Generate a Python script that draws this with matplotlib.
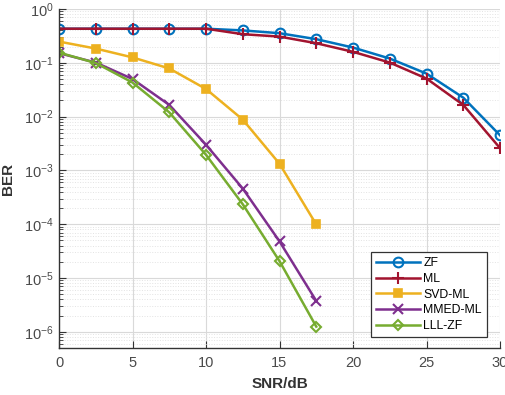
import matplotlib
matplotlib.use("Agg")
import matplotlib.pyplot as plt
from matplotlib.ticker import LogLocator, FixedLocator, NullFormatter

plt.rcParams['font.family'] = ['Liberation Sans', 'DejaVu Sans']
plt.rcParams['mathtext.fontset'] = 'custom'
plt.rcParams['mathtext.rm'] = 'Liberation Sans'
plt.rcParams['mathtext.it'] = 'Liberation Sans:italic'
plt.rcParams['mathtext.bf'] = 'Liberation Sans:bold'

snr = [0, 2.5, 5, 7.5, 10, 12.5, 15, 17.5, 20, 22.5, 25, 27.5, 30]
snr_short = [0, 2.5, 5, 7.5, 10, 12.5, 15, 17.5]

ber_zf = [0.43, 0.43, 0.43, 0.43, 0.43, 0.40, 0.355, 0.275, 0.192, 0.12, 0.063, 0.0225, 0.0045]
ber_ml = [0.43, 0.43, 0.43, 0.43, 0.43, 0.34, 0.307, 0.231, 0.16, 0.101, 0.051, 0.0165, 0.0026]
ber_svd = [0.248, 0.184, 0.126, 0.0785, 0.0326, 0.0088, 0.00133, 9.9e-5]
ber_mmed = [0.151, 0.101, 0.050, 0.0165, 0.0030, 4.6e-4, 4.8e-5, 3.75e-6]
ber_lll = [0.155, 0.099, 0.043, 0.012, 0.00195, 2.35e-4, 2.06e-5, 1.25e-6]

labels = ['ZF', 'ML', 'SVD-ML', 'MMED-ML', 'LLL-ZF']
colors = ['#0072BD', '#A2142F', '#EDB120', '#7E2F8E', '#77AC30']
x_ticks = [0, 5, 10, 15, 20, 25, 30]

fig = plt.figure(figsize=(5.05, 3.95), dpi=100)
ax = fig.add_axes([59 / 505, 47 / 395, 441 / 505, 339 / 395])

lw = 1.8
ax.semilogy(snr, ber_zf, '-o', color=colors[0], lw=lw, ms=7, mfc='none', mew=1.5, label=labels[0])
ax.semilogy(snr, ber_ml, '-+', color=colors[1], lw=lw, ms=8, mew=1.5, label=labels[1])
ax.semilogy(snr_short, ber_svd, '-s', color=colors[2], lw=lw, ms=5.5, mew=1.2, label=labels[2])
ax.semilogy(snr_short, ber_mmed, '-x', color=colors[3], lw=lw, ms=6.5, mew=1.5, label=labels[3])
ax.semilogy(snr_short, ber_lll, '-D', color=colors[4], lw=lw, ms=5.5, mfc='none', mew=1.5, label=labels[4])

ax.set_xlim(0, 30)
ax.set_ylim(5e-7, 1)
ax.xaxis.set_major_locator(FixedLocator(x_ticks))
ax.yaxis.set_major_locator(LogLocator(base=10, numticks=10))
ax.yaxis.set_minor_locator(LogLocator(base=10, subs=range(2, 10), numticks=20))
ax.yaxis.set_minor_formatter(NullFormatter())

ax.grid(True, which='major', color='#d9d9d9', lw=0.8)
ax.grid(True, which='minor', axis='y', color='#e3e3e3', lw=0.7, ls=':')
ax.set_axisbelow(True)

for s in ['top', 'right']:
    ax.spines[s].set_visible(False)
for s in ['left', 'bottom']:
    ax.spines[s].set_color('#333333')
    ax.spines[s].set_linewidth(1.0)

ax.tick_params(which='both', direction='in', colors='#333333', labelsize=10.5, labelcolor='#4a4a4a')
ax.tick_params(which='major', length=5)
ax.tick_params(which='minor', length=3)
ax.tick_params(axis='x', pad=6)
ax.tick_params(axis='y', pad=4)

ax.set_xlabel('SNR/dB', fontsize=11, fontweight='bold', color='#333333', labelpad=5)
ax.set_ylabel('BER', fontsize=11, fontweight='bold', color='#333333', labelpad=6)

leg = ax.legend(loc='lower right', bbox_to_anchor=(0.970, 0.033), fontsize=8.8,
                handlelength=3.6, fancybox=False, framealpha=1, edgecolor='#333333',
                borderpad=0.4, labelspacing=0.3, handletextpad=0.3, borderaxespad=0)
leg.get_frame().set_linewidth(0.9)

fig.savefig('out.png', dpi=100)
